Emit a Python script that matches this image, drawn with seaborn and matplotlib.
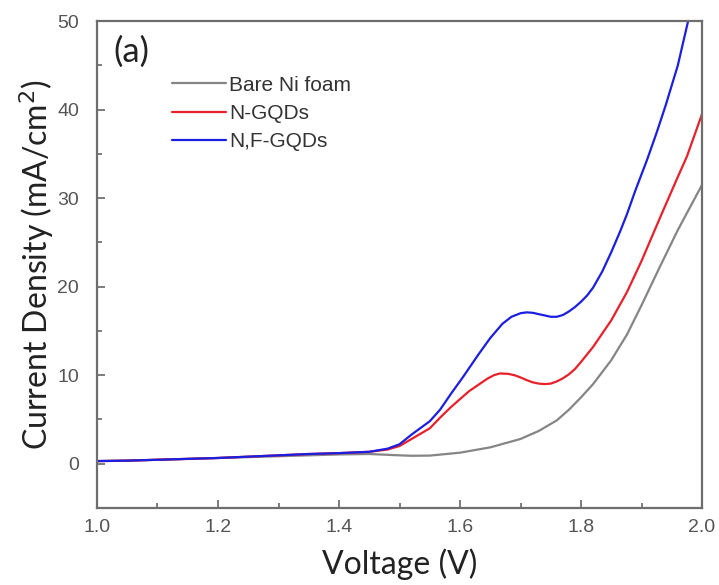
import matplotlib
matplotlib.use("Agg")
import matplotlib.pyplot as plt
from matplotlib.ticker import MultipleLocator
import numpy as np
import pandas as pd
import seaborn as sns

# Polarisation curves (voltage in V, current density in mA/cm^2)
bare_v = [1.00, 1.05, 1.10, 1.15, 1.20, 1.25, 1.30, 1.35, 1.40, 1.45, 1.50, 1.52,
          1.55, 1.60, 1.65, 1.70, 1.73, 1.76, 1.78, 1.80, 1.82, 1.85, 1.876, 1.90,
          1.93, 1.96, 2.00]
bare_j = [0.30, 0.35, 0.45, 0.55, 0.65, 0.75, 0.85, 0.95, 1.05, 1.10, 0.95, 0.90,
          0.92, 1.25, 1.85, 2.80, 3.70, 4.90, 6.10, 7.50, 9.00, 11.7, 14.6, 17.9,
          22.2, 26.4, 31.5]

ngqd_v = [1.00, 1.05, 1.10, 1.15, 1.20, 1.25, 1.30, 1.35, 1.40, 1.45, 1.48, 1.50,
          1.52, 1.55, 1.567, 1.585, 1.60, 1.615, 1.63, 1.645, 1.656, 1.666, 1.68,
          1.69, 1.70, 1.71, 1.72, 1.73, 1.74, 1.75, 1.76, 1.77, 1.78, 1.79, 1.80,
          1.82, 1.85, 1.876, 1.90, 1.93, 1.96, 1.975, 2.00]
ngqd_j = [0.30, 0.35, 0.45, 0.55, 0.65, 0.80, 0.95, 1.10, 1.20, 1.35, 1.60, 2.00,
          2.80, 4.00, 5.20, 6.40, 7.30, 8.20, 8.90, 9.60, 10.0, 10.2, 10.15, 10.0,
          9.75, 9.45, 9.20, 9.05, 9.00, 9.05, 9.30, 9.65, 10.1, 10.7, 11.5,
          13.2, 16.2, 19.4, 22.9, 27.7, 32.4, 34.7, 39.5]

nfgqd_v = [1.00, 1.05, 1.10, 1.15, 1.20, 1.25, 1.30, 1.35, 1.40, 1.45, 1.48, 1.50,
           1.52, 1.55, 1.567, 1.585, 1.605, 1.63, 1.65, 1.67, 1.685, 1.70, 1.71,
           1.72, 1.73, 1.74, 1.75, 1.76, 1.77, 1.78, 1.79, 1.80, 1.81, 1.82, 1.835,
           1.85, 1.865, 1.876, 1.89, 1.909, 1.925, 1.94, 1.96, 1.977, 1.99]
nfgqd_j = [0.30, 0.35, 0.45, 0.55, 0.65, 0.80, 0.95, 1.10, 1.20, 1.35, 1.70, 2.20,
           3.30, 4.80, 6.10, 7.90, 9.80, 12.3, 14.2, 15.8, 16.6, 17.0, 17.1, 17.05,
           16.9, 16.75, 16.6, 16.6, 16.8, 17.2, 17.7, 18.3, 19.0, 19.9, 21.7,
           23.9, 26.3, 28.2, 30.9, 34.3, 37.4, 40.5, 45.0, 50.0, 53.0]

series_names = ["Bare Ni foam", "N-GQDs", "N,F-GQDs"]
series_colors = ["#858585", "#e8202a", "#1c1ee0"]

x_ticks = [1.0, 1.2, 1.4, 1.6, 1.8, 2.0]
y_ticks = [0, 10, 20, 30, 40, 50]

frames = []
for name, v, j in zip(series_names, [bare_v, ngqd_v, nfgqd_v],
                      [bare_j, ngqd_j, nfgqd_j]):
    frames.append(pd.DataFrame({"Voltage": v, "Current": j, "Sample": name}))
data = pd.concat(frames, ignore_index=True)

sns.set_theme(style="white")
plt.rcParams["font.family"] = ["Liberation Sans", "DejaVu Sans"]

fig = plt.figure(figsize=(7.19, 5.85), dpi=100)
ax = fig.add_axes([0.1349, 0.1316, 0.8415, 0.8324])

sns.lineplot(data=data, x="Voltage", y="Current", hue="Sample",
             hue_order=series_names, palette=series_colors,
             estimator=None, sort=False, linewidth=1.6, ax=ax)

ax.set_xlim(1.0, 2.0)
ax.set_ylim(-5, 50)
ax.set_xticks(x_ticks)
ax.set_xticklabels([f"{t:.1f}" for t in x_ticks])
ax.set_yticks(y_ticks)
ax.set_yticklabels([str(t) for t in y_ticks])
ax.xaxis.set_minor_locator(MultipleLocator(0.1))
ax.yaxis.set_minor_locator(MultipleLocator(5))

ax.tick_params(which="both", direction="in", colors="#666666",
               labelcolor="#555555", labelsize=14, width=1.2)
ax.tick_params(which="major", length=6)
ax.tick_params(which="minor", length=3.5)
ax.tick_params(axis="x", which="major", pad=8)
ax.tick_params(axis="y", which="major", pad=13)
ax.tick_params(axis="x", which="both", top=False, bottom=True)
ax.tick_params(axis="y", which="both", right=False, left=True)

for side in ["left", "right", "top", "bottom"]:
    ax.spines[side].set_visible(True)
    ax.spines[side].set_color("#6e6e6e")
    ax.spines[side].set_linewidth(1.6)

label_font = dict(family=["Lato", "DejaVu Sans"], size=23, color="#222222")
ax.set_xlabel("Voltage (V)", labelpad=9, **label_font)
ax.set_ylabel("Current Density (mA/cm$^2$)", labelpad=1, **label_font)

ax.text(0.027, 0.936, "(a)", transform=ax.transAxes, va="center", ha="left",
        family=["Lato", "DejaVu Sans"], size=25, color="#222222")

leg = ax.legend(loc="upper left", bbox_to_anchor=(0.11, 0.905), frameon=False,
                fontsize=15, handlelength=2.6, handletextpad=0.15,
                labelspacing=0.45, borderaxespad=0)
for text in leg.get_texts():
    text.set_color("#333333")
for line in leg.get_lines():
    line.set_linewidth(1.6)

fig.savefig("out.png", dpi=100, facecolor="white")
